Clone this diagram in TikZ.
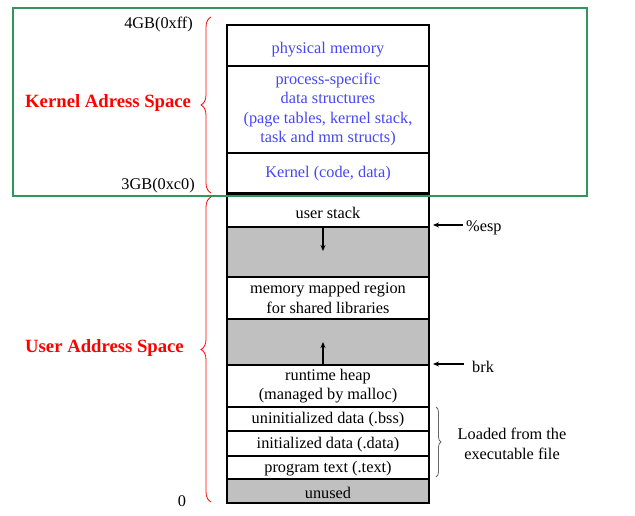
\documentclass[tikz,border=0pt]{standalone}
\usepackage{fontspec}
\setmainfont{Liberation Serif}
\usetikzlibrary{decorations.pathreplacing,arrows.meta}
\definecolor{kblue}{RGB}{70,70,245}
\definecolor{kgreen}{RGB}{50,150,90}
\definecolor{kgray}{RGB}{192,192,192}
\begin{document}
\begin{tikzpicture}[x=1pt,y=-1pt,
  txt/.style={font=\fontsize{16.3}{19.5}\selectfont, inner sep=0pt, align=center},
  seg/.style={txt, draw=black, line width=2pt, anchor=north west,
              minimum width=202pt},
  kseg/.style={seg, text=kblue},
  hole/.style={seg, fill=kgray},
  side/.style={font=\fontsize{18.7}{22}\selectfont\bfseries, text=red, inner sep=0pt},
  ptr/.style={line width=1.3pt, -{Stealth[length=6pt,width=5pt]}},
  rbrace/.style={decorate, decoration={brace, amplitude=10pt}, red, line width=0.8pt},
  bbrace/.style={decorate, decoration={brace, amplitude=5pt}, black!60, line width=0.8pt},
]
\useasboundingbox (0,0) rectangle (635,516);

% kernel part of the address space
\node[kseg, minimum height=41pt] (phys) at (226,24)
  {\raisebox{-4pt}[\height][\depth]{physical memory}};
\node[kseg, minimum height=87pt] (proc) at (226,65)
  {process-specific\\data structures\\(page tables, kernel stack,\\task and mm structs)};
\node[kseg, minimum height=40pt] (kern) at (226,152)
  {\raisebox{-1pt}[\height][\depth]{Kernel (code, data)}};

% user part of the address space
\node[seg,  minimum height=32pt] (ustack) at (226,194)
  {\raisebox{-1.5pt}[\height][\depth]{user stack}};
\node[hole, minimum height=50pt] (gap1)   at (226,226) {};
\node[seg,  minimum height=42pt] (mmap)   at (226,276) {memory mapped region\\for shared libraries};
\node[hole, minimum height=46pt] (gap2)   at (226,318) {};
\node[seg,  minimum height=42pt] (heap)   at (226,364) {runtime heap\\(managed by malloc)};
\node[seg,  minimum height=24pt] (bss)    at (226,406)
  {\raisebox{-1pt}[\height][\depth]{uninitialized data (.bss)}};
\node[seg,  minimum height=25pt] (data)   at (226,430)
  {\raisebox{-1.5pt}[\height][\depth]{initialized data (.data)}};
\node[seg,  minimum height=23pt] (ptext)  at (226,455)
  {\raisebox{-1.5pt}[\height][\depth]{program text (.text)}};
\node[hole, minimum height=24pt] (unused) at (226,478)
  {\raisebox{-1.5pt}[\height][\depth]{unused}};

% growth directions of stack and heap
\coordinate (stkA) at (323,228);
\coordinate (stkB) at (323,251);
\draw[ptr] (stkA) -- (stkB);
\coordinate (hpA) at (323,364);
\coordinate (hpB) at (323,342);
\draw[ptr] (hpA) -- (hpB);

% register / break pointers
\node[txt, anchor=west] (esp) at (466,228) {\%esp};
\coordinate (espT) at (463,225);
\draw[ptr, shorten >=3pt] (espT) -- (espT -| ustack.east);
\node[txt, anchor=west] (brk) at (472,367) {brk};
\coordinate (brkT) at (464,364);
\draw[ptr, shorten >=3pt] (brkT) -- (brkT -| heap.east);

% sections loaded from the binary
\draw[bbrace] (436,407) -- (436,477);
\node[txt] (loaded) at (512,444) {Loaded from the\\executable file};

% address labels
\node[txt, anchor=east] (a4gb) at (193,24) {4GB(0xff)};
\node[txt, anchor=east] (a3gb) at (195,186) {3GB(0xc0)};
\node[txt] (a0) at (182,501) {0};

% address space braces and titles
\draw[rbrace] (211,193) -- (211,17);
\draw[rbrace] (211,502) -- (211,197);
\node[side, anchor=west] (kas) at (25,103) {Kernel Adress Space};
\node[side, anchor=west] (uas) at (25,348) {User Address Space};

% kernel region frame
\draw[kgreen, line width=2pt] (12.5,8.5) rectangle (587,196.5);
\end{tikzpicture}
\end{document}
